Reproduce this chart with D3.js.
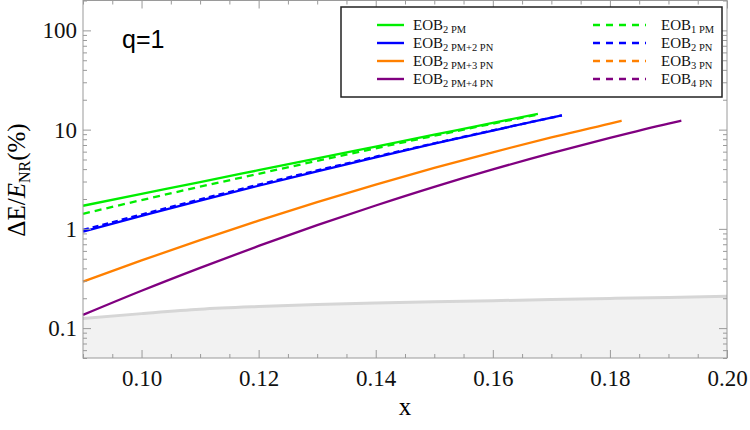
<!DOCTYPE html>
<html>
<head>
<meta charset="utf-8">
<script src="https://cdn.jsdelivr.net/npm/d3@7"></script>
<style>
  body { margin: 0; background: #fff; }
  svg { display: block; }
  .serif { font-family: "Liberation Serif", "DejaVu Serif", serif; }
</style>
</head>
<body>
<div id="chart"></div>
<script>
// x grid used for every series
const xs = [0.09, 0.10, 0.11, 0.12, 0.13, 0.14, 0.15, 0.16, 0.17, 0.18, 0.19];

// EOB_2PM (green, solid), last point is where the curve stops
const eob2pm = [1.71, 2.25, 2.96, 3.90, 5.14, 6.76, 8.89, 11.7];
const eob2pmEnd = [0.1677, 14.4];
// EOB_1PM (green, dashed)
const eob1pm = [1.42, 1.95, 2.66, 3.59, 4.84, 6.49, 8.67, 11.5];
const eob1pmEnd = [0.1677, 14.2];
// EOB_2PM+2PN (blue, solid)
const eob2pm2pn = [0.94, 1.35, 1.93, 2.72, 3.80, 5.26, 7.21, 9.79, 13.2];
const eob2pm2pnEnd = [0.1718, 13.9];
// EOB_2PN (blue, dashed)
const eob2pn = [0.975, 1.395, 1.98, 2.79, 3.88, 5.34, 7.28, 9.84, 13.2];
const eob2pnEnd = [0.1718, 13.9];
// EOB_2PM+3PN (orange, solid)
const eob2pm3pn = [0.294, 0.481, 0.770, 1.21, 1.86, 2.79, 4.11, 5.91, 8.35, 11.5];
const eob2pm3pnEnd = [0.182, 12.3];
// EOB_2PM+4PN (purple, solid)
const eob2pm4pn = [0.136, 0.238, 0.405, 0.673, 1.09, 1.72, 2.65, 3.97, 5.79, 8.25, 11.5];
const eob2pm4pnEnd = [0.1922, 12.3];

// NR error band (grey)
const nrX = [0.09, 0.10, 0.11, 0.12, 0.13, 0.14, 0.15, 0.16, 0.17, 0.18, 0.19, 0.20];
const nrErr = [0.125, 0.14, 0.155, 0.165, 0.173, 0.179, 0.184, 0.189, 0.194, 0.199, 0.204, 0.209];

const xDomain = [0.09, 0.20];
const yDomain = [0.05, 200];
const xMajor = [0.10, 0.12, 0.14, 0.16, 0.18, 0.20];
const yMajor = [0.1, 1, 10, 100];
const yLabels = ["0.1", "1", "10", "100"];

const width = 750, height = 430;
const margin = { top: 0.5, right: 23, bottom: 72, left: 83 };
const iw = width - margin.left - margin.right;
const ih = height - margin.top - margin.bottom;

const svg = d3.select('#chart').append('svg')
  .attr('width', width).attr('height', height);

const g = svg.append('g').attr('transform', `translate(${margin.left},${margin.top})`);

const x = d3.scaleLinear().domain(xDomain).range([0, iw]);
const y = d3.scaleLog().domain(yDomain).range([ih, 0]);

function pts(vals, end) {
  const p = vals.map((v, i) => [xs[i], v]);
  p.push(end);
  return p;
}

// grey NR band
const band = nrX.map((d, i) => [d, nrErr[i]]);
g.append('path')
  .datum(band)
  .attr('fill', '#f2f2f2')
  .attr('d', d3.area().x(d => x(d[0])).y0(ih).y1(d => y(d[1])).curve(d3.curveMonotoneX));
g.append('path')
  .datum(band)
  .attr('fill', 'none')
  .attr('stroke', '#d6d6d6')
  .attr('stroke-width', 3)
  .attr('d', d3.line().x(d => x(d[0])).y(d => y(d[1])).curve(d3.curveMonotoneX));

const series = [
  { data: pts(eob2pm4pn, eob2pm4pnEnd), color: '#800080', dash: null },
  { data: pts(eob2pm3pn, eob2pm3pnEnd), color: '#ff8000', dash: null },
  { data: pts(eob2pm2pn, eob2pm2pnEnd), color: '#0000ff', dash: null },
  { data: pts(eob2pn, eob2pnEnd), color: '#0000ff', dash: '6,4' },
  { data: pts(eob2pm, eob2pmEnd), color: '#00ee00', dash: null },
  { data: pts(eob1pm, eob1pmEnd), color: '#00ee00', dash: '7,5' }
];

const line = d3.line().x(d => x(d[0])).y(d => y(d[1])).curve(d3.curveMonotoneX);
g.selectAll('.series')
  .data(series)
  .enter()
  .append('path')
  .attr('fill', 'none')
  .attr('stroke', d => d.color)
  .attr('stroke-width', 2.3)
  .attr('stroke-dasharray', d => d.dash)
  .attr('d', d => line(d.data));

// frame + ticks
const frameColor = '#9a9a9a';
const xMinor = d3.range(0.09, 0.2001, 0.005).filter(v => !xMajor.some(m => Math.abs(m - v) < 1e-6));
const yMinor = [];
[0.01, 0.1, 1, 10, 100].forEach(dec => {
  for (let k = 2; k <= 9; k++) {
    const v = dec * k;
    if (v >= yDomain[0] && v <= yDomain[1]) yMinor.push(v);
  }
});

function styleAxis(sel) {
  sel.select('.domain').remove();
  sel.selectAll('line').attr('stroke', frameColor);
  sel.selectAll('text')
    .attr('class', 'serif')
    .attr('font-size', 23)
    .attr('fill', '#111');
}

// bottom
g.append('g').attr('transform', `translate(0,${ih})`)
  .call(d3.axisBottom(x).tickValues(xMajor).tickSize(-8).tickPadding(12).tickFormat(d3.format('.2f')))
  .call(styleAxis);
g.append('g').attr('transform', `translate(0,${ih})`)
  .call(d3.axisBottom(x).tickValues(xMinor).tickSize(-4).tickFormat(''))
  .call(styleAxis);
// top
g.append('g')
  .call(d3.axisTop(x).tickValues(xMajor).tickSize(-8).tickFormat(''))
  .call(styleAxis);
g.append('g')
  .call(d3.axisTop(x).tickValues(xMinor).tickSize(-4).tickFormat(''))
  .call(styleAxis);
// left
g.append('g')
  .call(d3.axisLeft(y).tickValues(yMajor).tickSize(-8).tickPadding(6).tickFormat((d, i) => yLabels[i]))
  .call(styleAxis);
g.append('g')
  .call(d3.axisLeft(y).tickValues(yMinor).tickSize(-4).tickFormat(''))
  .call(styleAxis);
// right
g.append('g').attr('transform', `translate(${iw},0)`)
  .call(d3.axisRight(y).tickValues(yMajor).tickSize(-8).tickFormat(''))
  .call(styleAxis);
g.append('g').attr('transform', `translate(${iw},0)`)
  .call(d3.axisRight(y).tickValues(yMinor).tickSize(-4).tickFormat(''))
  .call(styleAxis);

g.append('rect')
  .attr('width', iw).attr('height', ih)
  .attr('fill', 'none')
  .attr('stroke', frameColor)
  .attr('stroke-width', 1);

// q=1
g.append('text')
  .attr('x', 122 - margin.left).attr('y', 47)
  .attr('font-family', 'Liberation Sans, Arial, sans-serif')
  .attr('font-size', 25)
  .attr('fill', '#000')
  .text('q=1');

// axis titles
svg.append('text')
  .attr('class', 'serif')
  .attr('x', margin.left + iw / 2)
  .attr('y', 415)
  .attr('text-anchor', 'middle')
  .attr('font-size', 25)
  .text('x');

const yt = svg.append('text')
  .attr('class', 'serif')
  .attr('transform', 'translate(25,180) rotate(-90)')
  .attr('text-anchor', 'middle')
  .attr('font-size', 25);
yt.append('tspan').text('ΔE/');
yt.append('tspan').attr('font-style', 'italic').text('E');
yt.append('tspan').attr('font-size', 16).attr('dy', 5).text('NR');
yt.append('tspan').attr('dy', -5).text('(%)');

// legend
const legendNames = [
  ['2 PM', '1 PM'],
  ['2 PM+2 PN', '2 PN'],
  ['2 PM+3 PN', '3 PN'],
  ['2 PM+4 PN', '4 PN']
];
const legendColors = ['#00ee00', '#0000ff', '#ff8000', '#800080'];
const lg = svg.append('g');
lg.append('rect')
  .attr('x', 341).attr('y', 7).attr('width', 381).attr('height', 90)
  .attr('fill', '#fff').attr('stroke', '#222').attr('stroke-width', 1.5);

const rowY = d3.scalePoint().domain(d3.range(4)).range([25, 79]);
legendNames.forEach((names, i) => {
  const yy = rowY(i);
  lg.append('line')
    .attr('x1', 377).attr('x2', 404).attr('y1', yy).attr('y2', yy)
    .attr('stroke', legendColors[i]).attr('stroke-width', 2.4);
  lg.append('line')
    .attr('x1', 593).attr('x2', 646).attr('y1', yy).attr('y2', yy)
    .attr('stroke', legendColors[i]).attr('stroke-width', 2.4)
    .attr('stroke-dasharray', '7,6');
  [[413, names[0]], [661, names[1]]].forEach(([tx, sub]) => {
    const t = lg.append('text').attr('class', 'serif')
      .attr('x', tx).attr('y', yy + 5).attr('font-size', 15).attr('fill', '#111');
    t.append('tspan').text('EOB');
    t.append('tspan').attr('font-size', 10.5).attr('dy', 3).text(sub);
  });
});
</script>
</body>
</html>
